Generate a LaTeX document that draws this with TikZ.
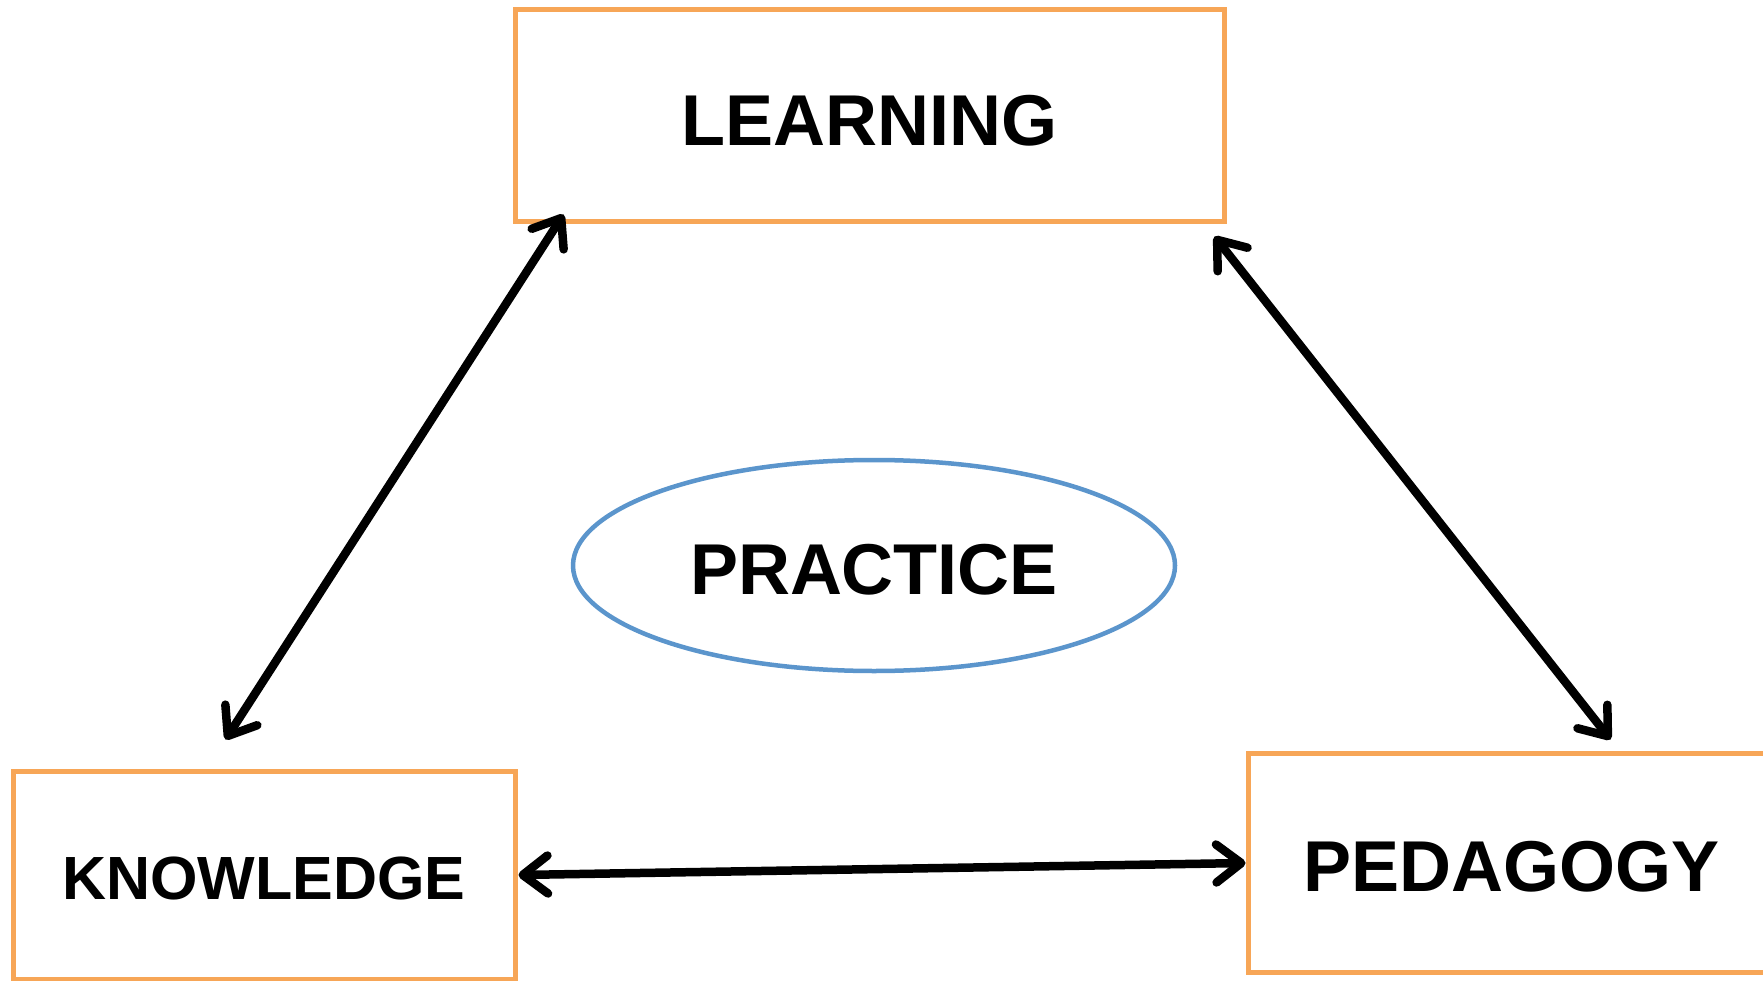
\documentclass[tikz,border=0pt]{standalone}
\usepackage{fontspec}
\setmainfont{Liberation Sans}
\usetikzlibrary{arrows.meta,shapes.geometric,calc}
\definecolor{boxorange}{HTML}{F7A657}
\definecolor{ellblue}{HTML}{5B95CC}
\newcommand{\lowertext}[2]{\raisebox{-#1}[\height][\depth]{#2}}
\tikzset{
  conceptbox/.style={draw=boxorange, line width=5pt, rectangle, inner sep=0pt, font=\bfseries},
  practiceell/.style={draw=ellblue, line width=4.5pt, ellipse, inner sep=0pt, font=\bfseries},
  link/.style={line width=8.5pt, line cap=round,
    {Straight Barb[length=25pt,width=38pt,round]}-{Straight Barb[length=25pt,width=38pt,round]},
    preaction={draw=black!35, opacity=0.35, transform canvas={shift={(2pt,-3pt)}}}}
}
\begin{document}
\begin{tikzpicture}[x=1pt,y=-1pt]
\clip (0,0) rectangle (1763,981);
\fill[white] (0,0) rectangle (1763,981);
\node[conceptbox, minimum width=709pt, minimum height=212pt] (L) at (869.5,116)
  {\lowertext{4.5pt}{\fontsize{72}{80}\selectfont LEARNING}};
\node[conceptbox, minimum width=502pt, minimum height=208pt] (K) at (264,875)
  {\lowertext{3.5pt}{\fontsize{61}{68}\selectfont KNOWLEDGE}};
\node[conceptbox, minimum width=527pt, minimum height=219pt] (P) at (1511.5,862.5)
  {\lowertext{4.5pt}{\fontsize{72}{80}\selectfont PEDAGOGY}};
\node[practiceell, minimum width=602pt, minimum height=211pt] (C) at (874,565.5)
  {\lowertext{4.5pt}{\fontsize{72}{80}\selectfont PRACTICE}};
\draw[link] ($(K.north west)+(215,-29)$) -- ($(L.south west)+(51,-10)$);
\draw[link] ($(L.south east)+(-12,12)$) -- ($(P.north west)+(365,-11)$);
\draw[link] ($(K.east)+(1,0)$) -- ($(P.west)+(0,0.5)$);
\end{tikzpicture}
\end{document}
